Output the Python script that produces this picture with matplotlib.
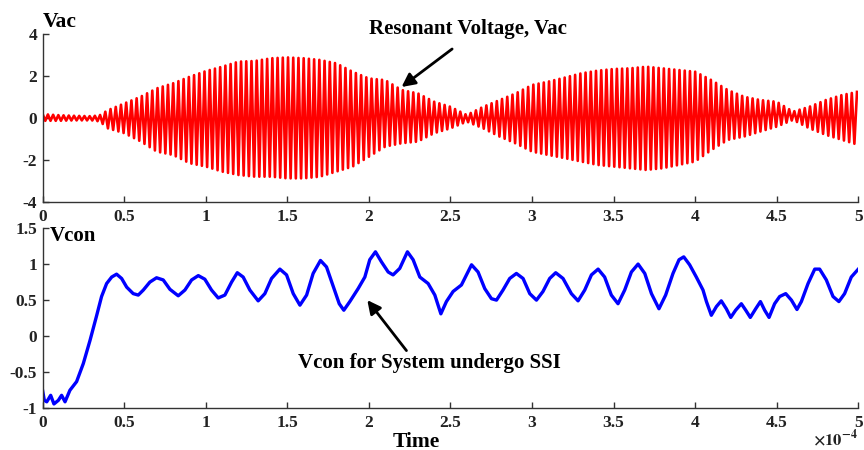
import numpy as np
import matplotlib
matplotlib.use("Agg")
import matplotlib.pyplot as plt

plt.rcParams['font.family'] = ['Liberation Serif', 'DejaVu Serif']
plt.rcParams['font.weight'] = 'bold'
plt.rcParams['mathtext.fontset'] = 'stix'

# time axis in units of 1e-4 s
# Vac: envelope (upper / lower peaks), carrier period
env_t = [0, 0.1, 0.2, 0.3, 0.35, 0.4, 0.5, 0.6, 0.7, 0.8, 0.9, 1.0, 1.1, 1.2, 1.3, 1.4, 1.5,
         1.6, 1.7, 1.8, 1.9, 2.0, 2.1, 2.2, 2.3, 2.4, 2.5, 2.6, 2.7, 2.8, 2.9, 3.0, 3.1,
         3.2, 3.3, 3.4, 3.5, 3.6, 3.7, 3.8, 3.9, 4.0, 4.1, 4.2, 4.3, 4.4, 4.5, 4.6, 4.7,
         4.8, 4.9, 5.0]
env_upper = [0.2, 0.15, 0.12, 0.1, 0.15, 0.39, 0.71, 1.03, 1.43, 1.67, 1.98, 2.25, 2.46, 2.70,
             2.73, 2.86, 2.90, 2.86, 2.78, 2.62, 2.22, 1.90, 1.82, 1.35, 1.19, 0.79, 0.55, 0.16,
             0.55, 0.87, 1.19, 1.59, 1.75, 1.94, 2.14, 2.27, 2.35, 2.38, 2.46, 2.38, 2.30, 2.22,
             1.82, 1.35, 1.03, 0.87, 0.79, 0.32, 0.55, 0.87, 1.11, 1.27]
env_lower = [-0.12, -0.12, -0.1, -0.1, -0.15, -0.48, -0.71, -1.1, -1.59, -1.75, -2.14, -2.30,
             -2.54, -2.70, -2.78, -2.78, -2.86, -2.86, -2.78, -2.54, -2.30, -1.83, -1.35, -1.19,
             -1.11, -0.71, -0.48, -0.16, -0.48, -0.87, -1.2, -1.59, -1.75, -1.9, -2.06, -2.22,
             -2.30, -2.38, -2.46, -2.38, -2.22, -2.06, -1.51, -1.03, -0.87, -0.63, -0.40, -0.08,
             -0.48, -0.79, -1.03, -1.27]
carrier_period = 0.032

# Vcon: points
vcon_t = [0, 0.01, 0.025, 0.049, 0.069, 0.096, 0.116, 0.137, 0.167, 0.208, 0.249, 0.29, 0.329,
          0.361, 0.392, 0.423, 0.453, 0.484, 0.515, 0.555, 0.586, 0.617, 0.657, 0.698, 0.739,
          0.78, 0.831, 0.872, 0.913, 0.954, 0.994, 1.035, 1.076, 1.117, 1.158, 1.193, 1.229,
          1.27, 1.321, 1.362, 1.403, 1.454, 1.495, 1.536, 1.577, 1.618, 1.658, 1.703, 1.740,
          1.781, 1.818, 1.846, 1.883, 1.934, 1.975, 2.005, 2.040, 2.077, 2.118, 2.148, 2.189,
          2.236, 2.271, 2.312, 2.363, 2.404, 2.441, 2.475, 2.516, 2.567, 2.602, 2.629, 2.669,
          2.710, 2.751, 2.782, 2.822, 2.863, 2.904, 2.945, 2.986, 3.027, 3.067, 3.108, 3.145,
          3.190, 3.241, 3.282, 3.323, 3.364, 3.405, 3.445, 3.486, 3.527, 3.568, 3.609, 3.650,
          3.691, 3.732, 3.778, 3.819, 3.864, 3.901, 3.930, 3.966, 4.007, 4.048, 4.069, 4.099,
          4.130, 4.160, 4.191, 4.218, 4.248, 4.283, 4.310, 4.338, 4.371, 4.400, 4.426, 4.453,
          4.487, 4.518, 4.555, 4.590, 4.624, 4.651, 4.692, 4.733, 4.763, 4.804, 4.845, 4.881,
          4.916, 4.957, 5.0]
vcon_v = [-0.76, -0.89, -0.91, -0.82, -0.94, -0.89, -0.82, -0.91, -0.75, -0.63, -0.38, -0.06,
          0.27, 0.55, 0.73, 0.82, 0.86, 0.80, 0.68, 0.59, 0.57, 0.64, 0.75, 0.81, 0.78, 0.65,
          0.56, 0.64, 0.78, 0.84, 0.79, 0.64, 0.53, 0.57, 0.75, 0.88, 0.82, 0.64, 0.49, 0.59,
          0.80, 0.93, 0.85, 0.59, 0.43, 0.57, 0.87, 1.05, 0.96, 0.69, 0.45, 0.36, 0.48, 0.66,
          0.82, 1.06, 1.17, 1.03, 0.89, 0.85, 0.94, 1.17, 1.06, 0.82, 0.73, 0.57, 0.31, 0.48,
          0.62, 0.71, 0.87, 0.99, 0.89, 0.66, 0.52, 0.50, 0.64, 0.80, 0.87, 0.80, 0.59, 0.50,
          0.62, 0.80, 0.88, 0.80, 0.59, 0.49, 0.64, 0.85, 0.93, 0.82, 0.57, 0.45, 0.64, 0.89,
          1.00, 0.87, 0.59, 0.38, 0.57, 0.87, 1.06, 1.10, 0.99, 0.82, 0.64, 0.48, 0.29, 0.41,
          0.49, 0.38, 0.26, 0.36, 0.45, 0.36, 0.26, 0.38, 0.48, 0.36, 0.26, 0.45, 0.55, 0.59,
          0.50, 0.37, 0.48, 0.73, 0.93, 0.93, 0.78, 0.55, 0.48, 0.59, 0.82, 0.93]

x_ticks = [0, 0.5, 1, 1.5, 2, 2.5, 3, 3.5, 4, 4.5, 5]
x_ticklabels = ['0', '0.5', '1', '1.5', '2', '2.5', '3', '3.5', '4', '4.5', '5']
vac_yticks = [-4, -2, 0, 2, 4]
vcon_yticks = [-1, -0.5, 0, 0.5, 1, 1.5]

# build the zigzag of the resonant voltage: alternate upper / lower peaks
half = carrier_period / 2
vac_t = np.arange(0, 5 + half / 2, half)
up = np.interp(vac_t, env_t, env_upper)
lo = np.interp(vac_t, env_t, env_lower)
vac_v = np.where(np.arange(len(vac_t)) % 2 == 0, up, lo)

fig = plt.figure(figsize=(8.64, 4.5), dpi=100)
ax1 = fig.add_axes([0.0494, 0.5504, 0.944, 0.3734])
ax2 = fig.add_axes([0.0494, 0.0927, 0.944, 0.4006])


def style(ax):
    for s in ['top', 'right']:
        ax.spines[s].set_visible(False)
    for s in ['left', 'bottom']:
        ax.spines[s].set_color('#333333')
        ax.spines[s].set_linewidth(1.0)
    ax.tick_params(direction='in', length=4, width=1, colors='#333333',
                   labelcolor='#222222', labelsize=12.5)
    ax.tick_params(axis='x', pad=5)
    ax.tick_params(axis='y', pad=4)
    ax.set_xlim(0, 5)
    ax.set_xticks(x_ticks)
    ax.set_xticklabels(x_ticklabels, fontweight='bold')
    for lab in ax.get_yticklabels():
        lab.set_fontweight('bold')


arrow = dict(arrowstyle='-|>', color='black', lw=2.0, mutation_scale=20, shrinkA=0, shrinkB=0)

ax1.plot(vac_t, vac_v, color='#ff0000', lw=1.9)
ax1.set_ylim(-4, 4)
ax1.set_yticks(vac_yticks)
ax1.set_yticklabels([str(v) for v in vac_yticks])
style(ax1)
ax1.text(0.0, 1.045, 'Vac', transform=ax1.transAxes, fontsize=15.5, fontweight='bold',
         ha='left', va='baseline')
ax1.text(2.61, 4.25, 'Resonant Voltage, Vac', fontsize=15, fontweight='bold',
         ha='center', va='center', clip_on=False)
ax1.annotate('', xy=(2.20, 1.49), xytext=(2.51, 3.3), arrowprops=arrow, annotation_clip=False)

ax2.plot(vcon_t, vcon_v, color='#0000ff', lw=2.4)
ax2.set_ylim(-1, 1.5)
ax2.set_yticks(vcon_yticks)
ax2.set_yticklabels(['-1', '-0.5', '0', '0.5', '1', '1.5'])
style(ax2)
ax2.text(0.009, 0.928, 'Vcon', transform=ax2.transAxes, fontsize=15, fontweight='bold',
         ha='left', va='baseline')
ax2.text(2.37, -0.375, 'Vcon for System undergo SSI', fontsize=15, fontweight='bold',
         ha='center', va='center')
ax2.annotate('', xy=(1.99, 0.5), xytext=(2.23, -0.2), arrowprops=arrow)
ax2.set_xlabel('Time', fontsize=15.5, fontweight='bold')
ax2.xaxis.set_label_coords(2.29 / 5, -0.13)
fig.text(858 / 864, 1 - 449 / 450, r'$\mathbf{\times 10^{-4}}$', fontsize=12,
         ha='right', va='bottom', color='#222222')

fig.savefig('out.png', dpi=100)
